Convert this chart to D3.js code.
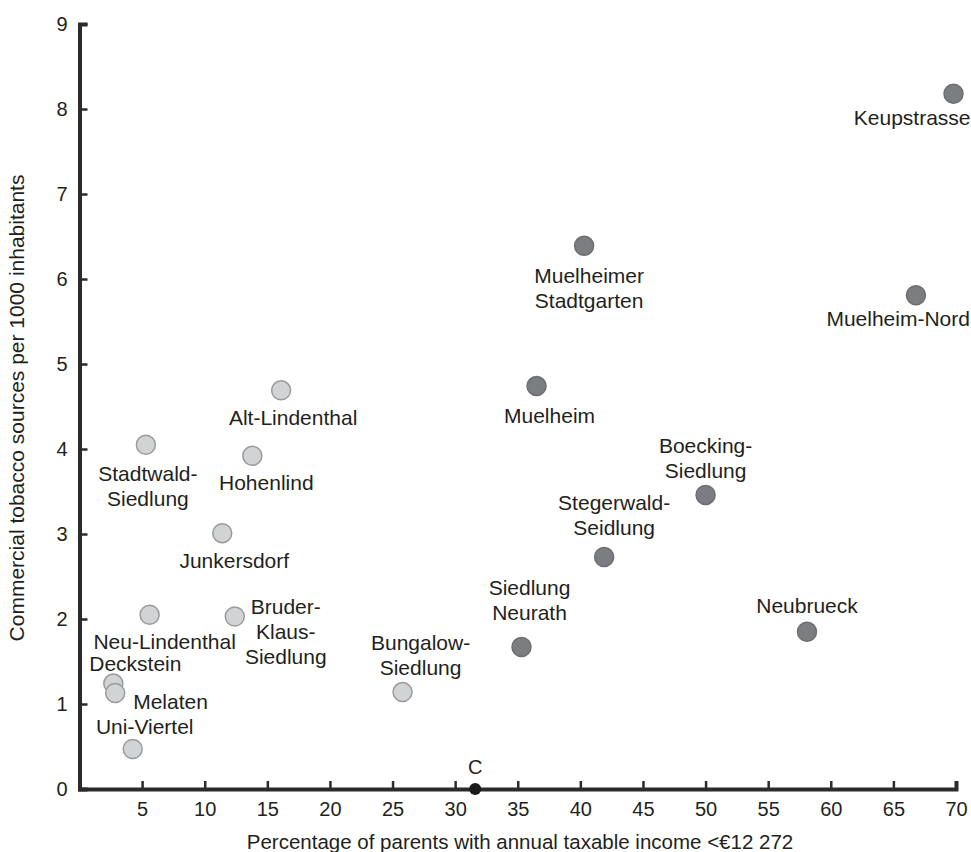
<!DOCTYPE html>
<html>
<head>
<meta charset="utf-8">
<script src="https://cdn.jsdelivr.net/npm/d3@7"></script>
<style>
  body { margin: 0; background: #fff; }
  text { font-family: "Liberation Sans", Arial, sans-serif; fill: #231f20; }
</style>
</head>
<body>
<script>
// districts and their values
var names = ["Alt-Lindenthal", "Stadtwald-|Siedlung", "Hohenlind", "Junkersdorf", "Neu-Lindenthal",
  "Bruder-|Klaus-|Siedlung", "Deckstein", "Melaten", "Uni-Viertel", "Bungalow-|Siedlung",
  "Muelheimer|Stadtgarten", "Muelheim", "Boecking-|Siedlung", "Stegerwald-|Seidlung",
  "Siedlung|Neurath", "Neubrueck", "Keupstrasse", "Muelheim-Nord"];
var income = [16.1, 5.3, 13.8, 11.4, 5.6, 12.4, 2.7, 2.85, 4.25, 25.8,
  40.3, 36.5, 50.0, 41.9, 35.3, 58.1, 69.8, 66.8];
var sources = [4.69, 4.05, 3.92, 3.01, 2.05, 2.03, 1.24, 1.13, 0.47, 1.14,
  6.39, 4.74, 3.46, 2.73, 1.67, 1.85, 8.18, 5.81];
var group = ["low", "low", "low", "low", "low", "low", "low", "low", "low", "low",
  "high", "high", "high", "high", "high", "high", "high", "high"];
var centre = { name: "C", income: 31.6, sources: 0 };
var xTicks = [5, 10, 15, 20, 25, 30, 35, 40, 45, 50, 55, 60, 65, 70];
var yTicks = [0, 1, 2, 3, 4, 5, 6, 7, 8, 9];

// label placement relative to each point: [dx, dy, anchor]
var labelPos = [[12, 27, "middle"], [2, 29, "middle"], [14, 27, "middle"], [12, 27, "middle"],
  [15, 27, "middle"], [51, -10, "middle"], [22, -20, "middle"], [18, 9, "start"],
  [12, -22, "middle"], [18, -49, "middle"], [5, 30, "middle"], [13, 30, "middle"],
  [0, -49, "middle"], [10, -54, "middle"], [8, -59, "middle"], [0, -26, "middle"],
  [17, 24, "end"], [54, 23, "end"]];

var W = 971, H = 852;
var svg = d3.select("body").append("svg").attr("width", W).attr("height", H);

var x = d3.scaleLinear().domain([0, 70]).range([79.5, 956]);
var y = d3.scaleLinear().domain([0, 9]).range([789, 24]);

var xAxis = svg.append("g").attr("transform", "translate(0," + y(0) + ")")
  .call(d3.axisBottom(x).tickValues(xTicks).tickSize(-8).tickPadding(13));
var yAxis = svg.append("g").attr("transform", "translate(" + x(0) + ",0)")
  .call(d3.axisLeft(y).tickValues(yTicks).tickSize(-8).tickPadding(12));

[xAxis, yAxis].forEach(function(a) {
  a.select(".domain").attr("stroke", "#2b2b2b").attr("stroke-width", 4);
  a.selectAll(".tick line").attr("stroke", "#2b2b2b").attr("stroke-width", 2.5);
  a.selectAll(".tick text").attr("font-size", 20).attr("font-family", "Liberation Sans, Arial, sans-serif").attr("fill", "#231f20");
});
xAxis.selectAll(".tick text").attr("dy", "0.71em");

svg.append("text")
  .attr("x", 520).attr("y", 849)
  .attr("text-anchor", "middle").attr("font-size", 20.5)
  .text("Percentage of parents with annual taxable income <€12 272");

svg.append("text")
  .attr("transform", "translate(24,408) rotate(-90)")
  .attr("text-anchor", "middle").attr("font-size", 21)
  .text("Commercial tobacco sources per 1000 inhabitants");

var pts = names.map(function(n, i) {
  return { name: n, income: income[i], sources: sources[i], group: group[i], pos: labelPos[i] };
});

svg.append("g").selectAll("circle")
  .data(pts).enter().append("circle")
  .attr("cx", function(d) { return x(d.income); })
  .attr("cy", function(d) { return y(d.sources); })
  .attr("r", 9.5)
  .attr("fill", function(d) { return d.group == "low" ? "#d2d3d5" : "#7c7d80"; })
  .attr("stroke", function(d) { return d.group == "low" ? "#9a9b9d" : "#6d6e70"; })
  .attr("stroke-width", 1.5);

var lab = svg.append("g").selectAll("text")
  .data(pts).enter().append("text")
  .attr("font-size", 21)
  .attr("text-anchor", function(d) { return d.pos[2]; })
  .attr("transform", function(d) {
    return "translate(" + (x(d.income) + d.pos[0]) + "," + (y(d.sources) + d.pos[1]) + ")";
  });

lab.selectAll("tspan")
  .data(function(d) { return d.name.split("|"); })
  .enter().append("tspan")
  .attr("x", 0)
  .attr("dy", function(d, i) { return i == 0 ? "0.35em" : 25; })
  .text(function(d) { return d; });

svg.append("circle")
  .attr("cx", x(centre.income)).attr("cy", y(centre.sources))
  .attr("r", 6).attr("fill", "#1a1a1a");
svg.append("text")
  .attr("x", x(centre.income)).attr("y", y(centre.sources) - 22)
  .attr("dy", "0.35em").attr("text-anchor", "middle").attr("font-size", 20)
  .text(centre.name);
</script>
</body>
</html>
